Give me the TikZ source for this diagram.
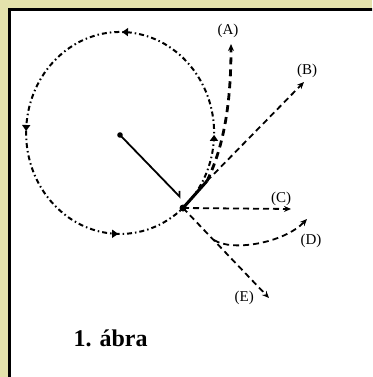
\documentclass[tikz,border=0pt]{standalone}
\usepackage{fontspec}
\setmainfont{Liberation Serif}
\usetikzlibrary{positioning,arrows.meta,decorations.markings}
\definecolor{paper}{RGB}{228,226,172}

\begin{document}
\begin{tikzpicture}[
        x=1pt, y=-1pt,
        >={Stealth[length=7pt,width=6pt]},
        orbit/.style={
            line width=2pt,
            dash pattern=on 5pt off 3pt on 1.5pt off 3pt,
            postaction={decorate},
            decoration={markings,
                mark=at position 0.133 with {\arrow{Triangle[length=6pt,width=8pt]}},
                mark=at position 0.383 with {\arrow{Triangle[length=6pt,width=8pt]}},
                mark=at position 0.633 with {\arrow{Triangle[length=6pt,width=8pt]}},
                mark=at position 0.883 with {\arrow{Triangle[length=6pt,width=8pt]}}}
        },
        traj/.style={
            ->,
            line width=1.8pt,
            dash pattern=on 6pt off 4pt
        },
        lbl/.style={
            font=\fontsize{15}{17}\selectfont,
            inner sep=1pt
        }
    ]
        \clip (0,0) rectangle (372,377);
        \fill[paper] (0,0) rectangle (372,377);
        \draw[line width=3pt, fill=white] (9.5,9.5) rectangle (390,395);

        \coordinate (O) at (120,135);
        \coordinate (P) at (183,208);
        \coordinate (R) at (181,198);
        \coordinate (T) at (207,181);
        \coordinate (Atip) at (231,44);
        \coordinate (Btip) at (304,82);
        \coordinate (Ctip) at (291,209);
        \coordinate (Q) at (214,240);
        \coordinate (Dtip) at (307,219);
        \coordinate (Etip) at (269,298);

        % circular path
        \draw[orbit] (P) arc[start angle=48, end angle=-312, x radius=94, y radius=101];

        % radius
        \fill (O) circle[radius=2.8pt];
        \draw[line width=1.8pt, -{Straight Barb[left,length=4pt,width=8pt]}] (O) -- (R);
        \fill (P) circle[radius=3.5pt];

        % possible paths
        \draw[line width=3pt] (P) -- (T);
        \draw[traj, line width=2.8pt, dash pattern=on 7pt off 5pt] (T) .. controls (222,150) and (231,110) .. (Atip);
        \draw[traj] (T) -- (Btip);
        \draw[traj] (P) -- (Ctip);
        \draw[traj] (P) -- (Etip);
        \draw[traj] (Q) .. controls (232,252) and (284,243) .. (Dtip);

        \node[lbl, above=5pt of Atip, xshift=-3pt] (labA) {(A)};
        \node[lbl, above=3pt of Btip, xshift=3pt] (labB) {(B)};
        \node[lbl, above=2pt of Ctip, xshift=-10pt] (labC) {(C)};
        \node[lbl, below=14pt of Dtip, xshift=4pt] (labD) {(D)};
        \node[lbl, left=14pt of Etip] (labE) {(E)};

        \node[font=\bfseries\fontsize{24}{28}\selectfont, anchor=base west] (caption) at (70,346) {1. ábra};
    \end{tikzpicture}
\end{document}
